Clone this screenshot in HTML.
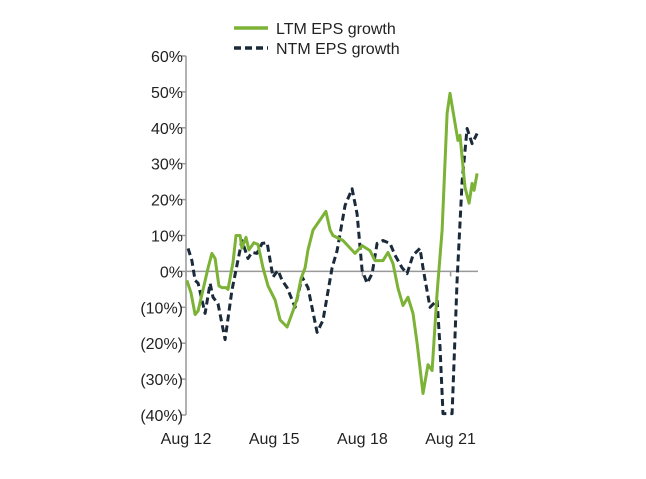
<!DOCTYPE html>
<html><head><meta charset="utf-8"><style>
body{margin:0;background:#fff;}
svg text{font-family:"Liberation Sans",Arial,sans-serif;font-size:16px;fill:#222;}
</style></head><body>
<svg width="646" height="474" xmlns="http://www.w3.org/2000/svg">
<g>
<line x1="234" y1="28" x2="268" y2="28" stroke="#7cb236" stroke-width="3.5"/>
<text x="276" y="34">LTM EPS growth</text>
<line x1="234" y1="48" x2="268" y2="48" stroke="#1b2a3a" stroke-width="3.5" stroke-dasharray="7,4"/>
<text x="276" y="54">NTM EPS growth</text>
</g>
<g id="axes"></g>
<g id="series"></g>
</svg>
<script>
const yTicks=[60,50,40,30,20,10,0,-10,-20,-30,-40];
const yTickLabels=["60%","50%","40%","30%","20%","10%","0%","(10%)","(20%)","(30%)","(40%)"];
const xTickYears=[0,3,6,9];
const xTickLabels=["Aug 12","Aug 15","Aug 18","Aug 21"];
const ltmT=[0.03,0.17,0.31,0.41,0.58,0.75,0.88,0.99,1.12,1.22,1.36,1.43,1.60,1.70,1.84,1.90,2.04,2.14,2.31,2.45,2.62,2.79,3.03,3.20,3.44,3.64,3.78,3.91,4.05,4.15,4.32,4.76,4.90,5.00,5.34,5.75,5.99,6.26,6.43,6.70,6.87,7.04,7.21,7.38,7.55,7.72,7.86,8.06,8.23,8.37,8.54,8.71,8.88,8.98,9.25,9.32,9.49,9.63,9.73,9.80,9.90];
const ltmV=[-2.5,-6,-12,-11,-5,1,5,3.6,-4,-4.5,-4.5,-5,2.5,10,10,6.5,9.5,6,8,7.5,1,-4,-8,-13.5,-15.5,-11,-7.5,-2,1,6,11.5,16.7,11.5,10,8.6,5,7.2,5.8,3,3,5.3,2.2,-4.7,-9.5,-7.2,-11.7,-20,-34,-26,-27.6,-6,11.4,44,49.6,36.5,37.9,23.4,19,24.5,22.6,27.3];
const ntmT=[0.07,0.20,0.31,0.41,0.65,0.82,0.92,1.09,1.33,1.56,1.90,2.11,2.24,2.41,2.59,2.76,2.96,3.13,3.27,3.44,3.71,3.95,4.15,4.46,4.66,4.97,5.14,5.41,5.65,5.82,5.99,6.16,6.33,6.50,6.70,6.94,7.11,7.35,7.52,7.72,7.96,8.06,8.30,8.54,8.64,8.74,9.05,9.22,9.39,9.56,9.73,9.90];
const ntmV=[6.4,3,-2.5,-3.3,-11.7,-3.3,-7.2,-9,-19,-5.3,8.6,3.6,5.3,5,7.8,8,-1.6,0.3,-2.5,-4.5,-10,-1.6,-4.5,-17,-13.6,1,5.8,18.4,23,16,0.3,-3.3,-0.6,7.8,8.6,7.8,4.5,1,-0.6,4.5,6.4,1,-10,-8,-21,-39.6,-39.6,-2.5,25,39.8,35.6,38.4];
const NS="http://www.w3.org/2000/svg";
const X0=186,X1=478,PX_PER_YEAR=29.4,Y60=56,Ym40=415;
const xs=t=>X0+t*PX_PER_YEAR;
const ys=v=>Y60+(60-v)*(Ym40-Y60)/100;
function mk(tag,attrs,parent){const e=document.createElementNS(NS,tag);for(const k in attrs)e.setAttribute(k,attrs[k]);parent.appendChild(e);return e;}
const ax=document.getElementById('axes');
const yAxis=mk('line',{x1:X0,y1:Y60,x2:X0,y2:Ym40,stroke:'#999','stroke-width':1.5},ax);


yTicks.forEach((v,i)=>{
  const tk=mk('line',{x1:X0-5,y1:ys(v),x2:X0,y2:ys(v),stroke:'#999','stroke-width':1.5},ax);
  
  
  const tx=mk('text',{x:X0-3,y:ys(v)+6,'text-anchor':'end'},ax);
  tx.textContent=yTickLabels[i];
  
  
});
const zl=mk('line',{x1:X0,y1:ys(0),x2:X1,y2:ys(0),stroke:'#999','stroke-width':1.5},ax);


xTickYears.forEach((t,i)=>{
  const tk=mk('line',{x1:xs(t),y1:ys(0),x2:xs(t),y2:ys(0)+5,stroke:'#999','stroke-width':1.5},ax);
  
  
  const tx=mk('text',{x:xs(t),y:444,'text-anchor':'middle'},ax);
  tx.textContent=xTickLabels[i];
  
  
});
const sg=document.getElementById('series');
function pts(T,V){return T.map((t,i)=>xs(t).toFixed(1)+','+ys(V[i]).toFixed(1)).join(' ');}
const ntm=mk('polyline',{points:pts(ntmT,ntmV),fill:'none',stroke:'#1b2a3a','stroke-width':3,'stroke-dasharray':'7,4','stroke-linejoin':'round'},sg);


const ltm=mk('polyline',{points:pts(ltmT,ltmV),fill:'none',stroke:'#7cb236','stroke-width':3,'stroke-linejoin':'round'},sg);


</script>
</body></html>
